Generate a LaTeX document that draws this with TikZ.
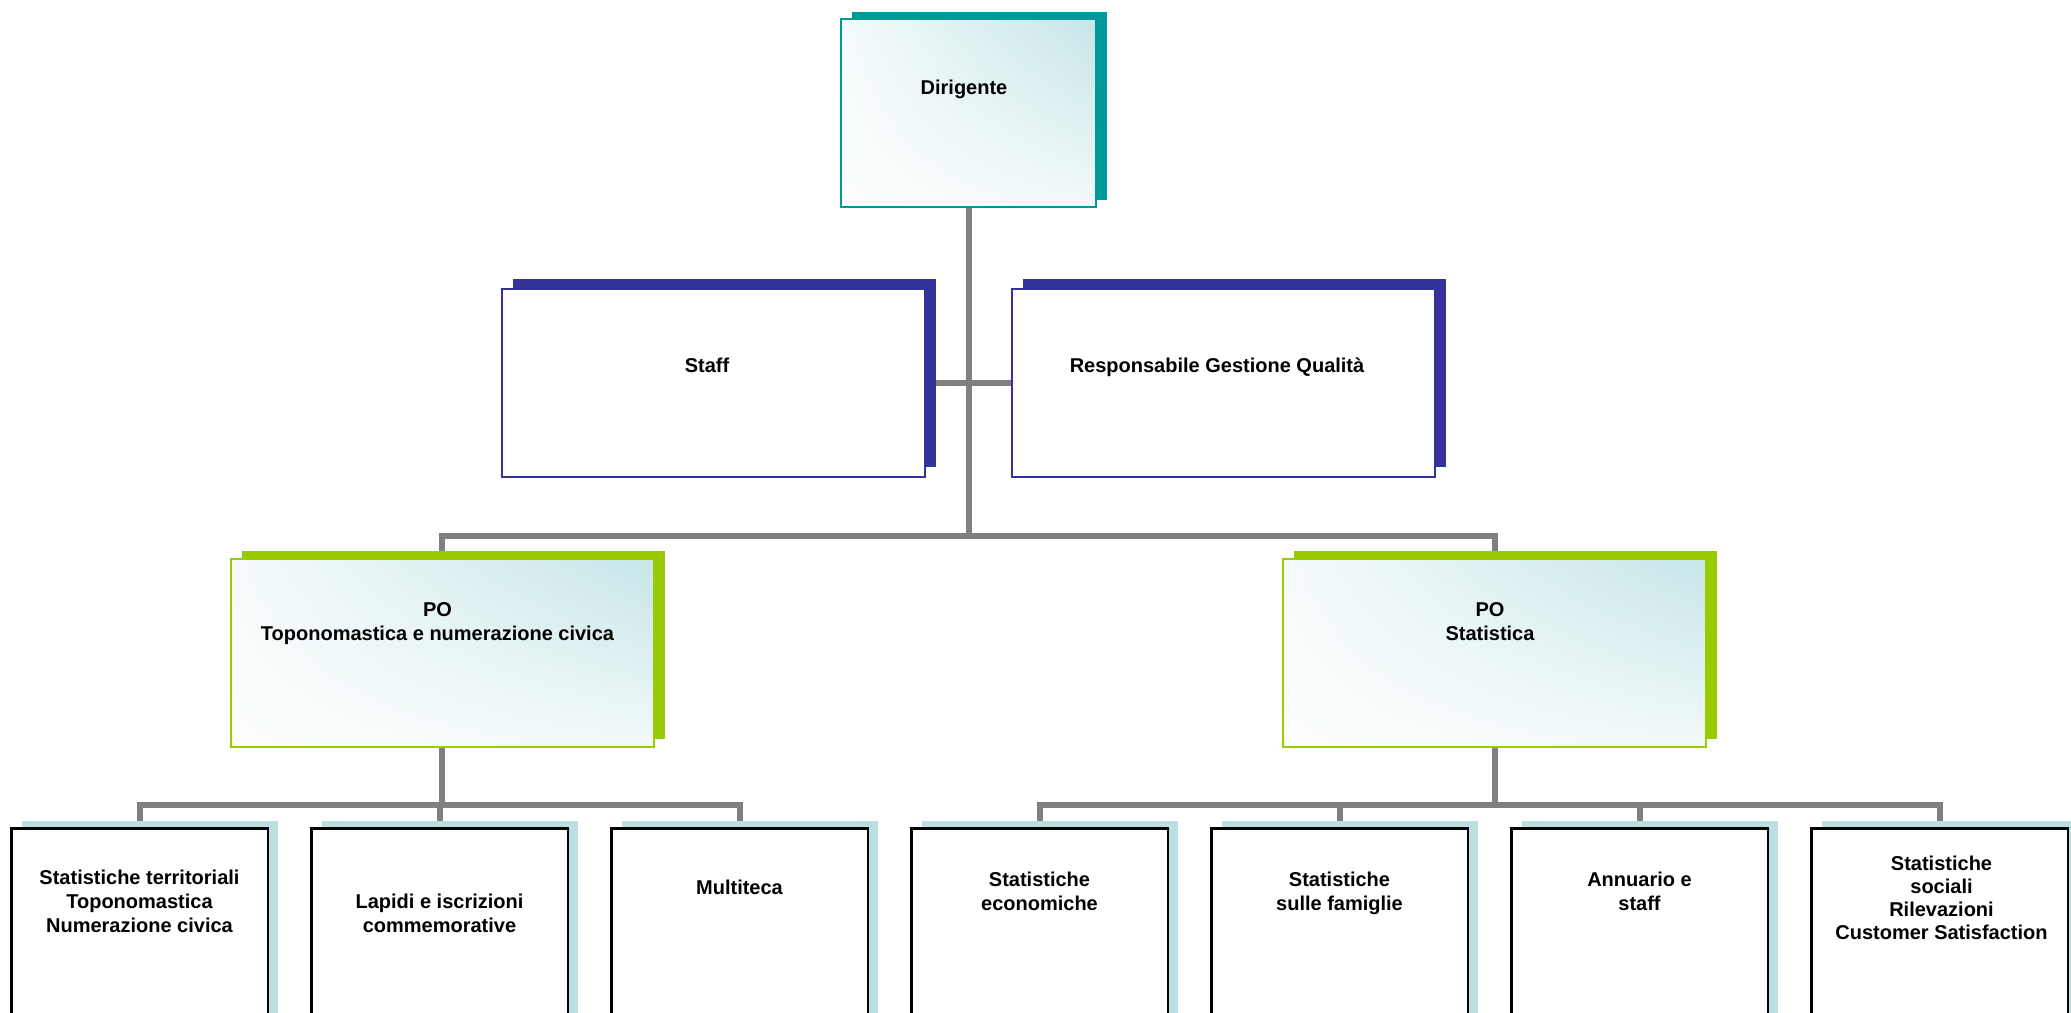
\documentclass[tikz,border=0pt]{standalone}
\usepackage{fontspec}
\setmainfont{Liberation Sans}
\usetikzlibrary{shadows,backgrounds}
\definecolor{tealc}{RGB}{0,153,153}
\definecolor{bluec}{RGB}{51,51,153}
\definecolor{greenc}{RGB}{153,204,0}
\definecolor{lightc}{RGB}{187,224,227}
\definecolor{grayc}{RGB}{128,128,128}
\pgfdeclarefunctionalshading{glow}{\pgfpoint{-50bp}{-50bp}}{\pgfpoint{50bp}{50bp}}{}{
 50 add 100 div 0.1 sub 0.8 div dup 0 lt {pop 0} if dup 1 gt {pop 1} if
 exch 50 add 100 div 0.15 sub 0.6 div dup 0 lt {pop 0} if dup 1 gt {pop 1} if
 mul
 dup 0.2784 mul 1 exch sub
 exch dup 0.1255 mul 1 exch sub
 exch 0.1137 mul 1 exch sub
}
\newcommand\firststrut{\rule{0pt}{15pt}}
\begin{document}
\begin{tikzpicture}[x=1pt,y=-1pt,
  every node/.style={inner sep=0pt, outer sep=0pt},
  txt/.style={anchor=north, align=center, font=\bfseries\fontsize{20}{24}\selectfont},
  conn/.style={draw=grayc, line width=6pt},
  bigbox/.style={rectangle, minimum width=423pt, minimum height=187.5pt},
  gradbox/.style={shading=glow, shade, draw=#1, line width=2pt},
  plainbox/.style={fill=white, draw=#1, line width=2pt},
  leafbox/.style={rectangle, minimum width=256.5pt, minimum height=202pt, fill=white, draw=black, line width=2.5pt,
     general shadow={fill=lightc, shadow xshift=10.7pt, shadow yshift=7.3pt}},
]
\useasboundingbox (0,0) rectangle (2071,1012);
\clip (0,0) rectangle (2071,1012);

% top
\node[rectangle, minimum width=255pt, minimum height=188pt, gradbox=tealc,
  general shadow={fill=tealc, shadow xshift=11pt, shadow yshift=7pt}] (dir) at (968.5,113.3) {};
\node[bigbox, plainbox=bluec,
  general shadow={fill=bluec, shadow xshift=11pt, shadow yshift=10pt}] (staff) at (713.5,383) {};
\node[bigbox, plainbox=bluec,
  general shadow={fill=bluec, shadow xshift=11pt, shadow yshift=10pt}] (rgq) at (1223.2,383) {};
\node[bigbox, gradbox=greenc,
  general shadow={fill=greenc, shadow xshift=11pt, shadow yshift=8pt}] (potopo) at (442.3,653) {};
\node[bigbox, gradbox=greenc,
  general shadow={fill=greenc, shadow xshift=11pt, shadow yshift=8pt}] (postat) at (1494.7,653) {};

% leaves
\foreach \i in {1,...,7}{
  \node[leafbox] (b\i) at ({139.5+300*(\i-1)},929.3) {};
}

% texts
\node[txt] (t-dir) at (964,79) {\firststrut Dirigente};
\node[txt] (t-staff) at (707,357.5) {\firststrut Staff};
\node[txt] (t-rgq) at (1217,357.5) {\firststrut Responsabile Gestione Qualità};
\node[txt] (t-potopo) at (437.5,601) {\firststrut PO\\Toponomastica e numerazione civica};
\node[txt] (t-postat) at (1490,601) {\firststrut PO\\Statistica};

\node[txt] (t-b1) at (b1.north |- 0,869.5) {\firststrut Statistiche territoriali\\Toponomastica\\Numerazione civica};
\node[txt] (t-b2) at (b2.north |- 0,893.5) {\firststrut Lapidi e iscrizioni\\commemorative};
\node[txt] (t-b3) at (b3.north |- 0,879.5) {\firststrut Multiteca};
\node[txt] (t-b4) at (b4.north |- 0,871.5) {\firststrut Statistiche\\economiche};
\node[txt] (t-b5) at (b5.north |- 0,871.5) {\firststrut Statistiche\\sulle famiglie};
\node[txt] (t-b6) at (b6.north |- 0,871.5) {\firststrut Annuario e\\staff};
\node[txt, font=\bfseries\fontsize{20}{23}\selectfont] (t-b7) at ([xshift=2pt]b7.north |- 0,855.5) {\firststrut Statistiche\\sociali\\Rilevazioni\\Customer Satisfaction};

% connectors
\coordinate (hub) at (968.5,535.7);
\coordinate (lbus) at (442.3,805);
\coordinate (rbus) at (1494.7,805);
\begin{scope}[on background layer]
\draw[conn] (dir.south) -- (hub);
\draw[conn] (staff.east) -- (rgq.west);
\draw[conn] (potopo.north) |- (hub) -| (postat.north);
\draw[conn] (potopo.south) -- (lbus);
\draw[conn] (b1.north) |- (lbus) -| (b3.north);
\draw[conn] (b2.north) -- (b2.north |- lbus);
\draw[conn] (postat.south) -- (rbus);
\draw[conn] (b4.north) |- (rbus) -| (b7.north);
\draw[conn] (b5.north) -- (b5.north |- rbus);
\draw[conn] (b6.north) -- (b6.north |- rbus);
\end{scope}
\end{tikzpicture}
\end{document}
